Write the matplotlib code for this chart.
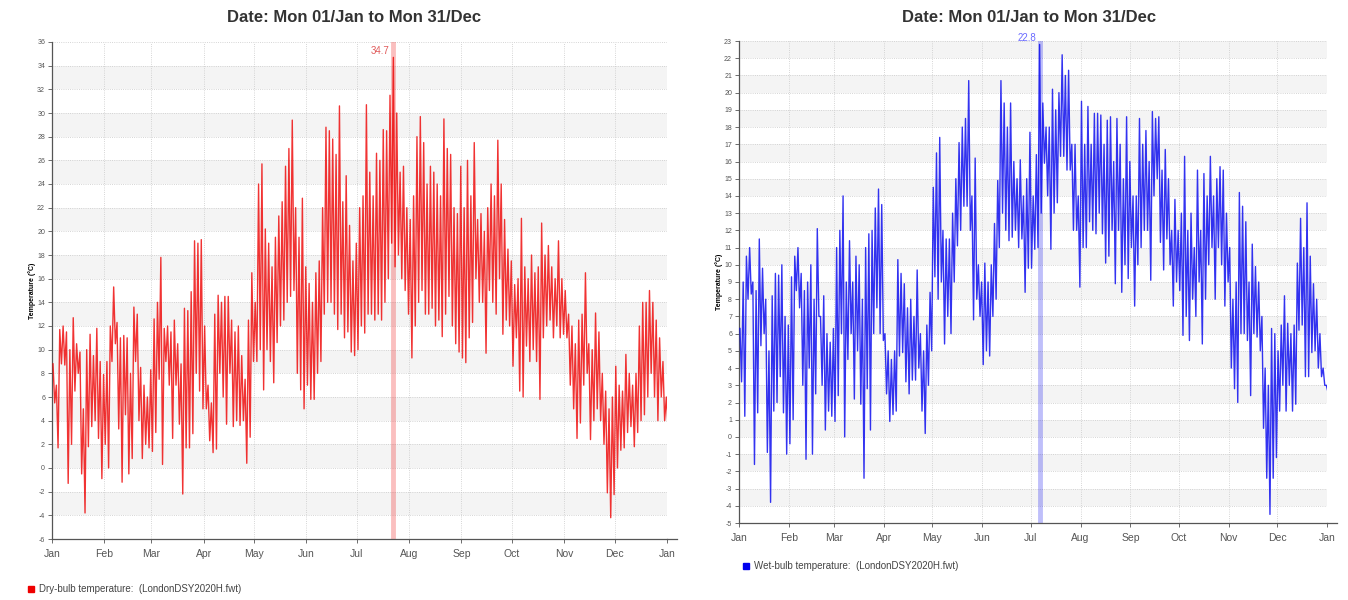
import numpy as np
import matplotlib.pyplot as plt
from matplotlib.patches import Rectangle

plt.rcParams['font.family'] = ['Liberation Sans', 'DejaVu Sans']

month_labels = ['Jan', 'Feb', 'Mar', 'Apr', 'May', 'Jun', 'Jul',
                'Aug', 'Sep', 'Oct', 'Nov', 'Dec', 'Jan']
month_starts = [0, 31, 59, 90, 120, 151, 181, 212, 243, 273, 304, 334, 365]

# two-day highs and lows (degC), Jan..Dec
dry_bulb_high = [
    8.8, 7, 11.7, 12, 11.5, 10, 12.7, 10.5, 9.8, 5, 10, 11.3, 9.5, 11.8, 9, 7.9,
    9, 12, 15.3, 12.3, 11, 11.2, 11, 8, 13.6, 13, 8.5, 7, 6, 8.3,
    12.6, 14, 17.8, 11.8, 12, 11.5, 12.5, 10.5, 8.8, 13.5, 13.3, 14.9, 19.2, 19, 19.3,
    12, 7, 5.5, 13, 14.6, 14, 14.5, 14.5, 12.5, 11.5, 12, 9.5, 7.5, 12.5, 16.5,
    14, 24, 25.7, 20.2, 19, 17, 19.5, 21.3, 22.5, 25.5, 27, 29.4, 22, 19.5, 22.8, 17,
    15.6, 14, 16.5, 17.5, 22, 28.8, 28.5, 27.8, 26.5, 30.6, 22.5, 24.7, 20.5, 17.5, 19,
    22, 23, 30.7, 25, 23, 26.6, 26, 28.6, 28.5, 31.5, 34.7, 30, 25, 25.5, 22, 21,
    23, 28, 29.7, 27.5, 24, 25.5, 25, 24, 23, 29.5, 27, 26.5, 22, 21.5, 25.5,
    22, 26, 23, 27.5, 21, 21.5, 20, 22, 24, 23, 27.7, 24, 21, 18.5, 17.5,
    15.5, 16, 21.1, 17, 16, 18, 16.5, 17, 20.7, 18, 18.8, 17, 16, 19.2, 16, 15,
    13, 12, 10.5, 12.5, 13, 16.5, 10.5, 10, 13.1, 11.5, 8, 6.5, 5, 6,
    8.6, 7, 6.5, 9.6, 8, 7, 8, 12, 14, 14, 15, 14, 12.5, 11, 9, 6,
]
dry_bulb_low = [
    5.5, 1.7, 8.8, 8.7, -1.3, 2, 6.5, 8, -0.5, -3.8, 1.8, 3.5, 4, 2.5, -0.9, 2,
    0, 9, 10.5, 3.3, -1.2, 4.5, -0.5, 0.8, 9, 4, 0.8, 2, 1.7, 1.4,
    3, 7.5, 0.3, 9, 7, 2.5, 7, 3.7, -2.2, 1.7, 1.7, 2.9, 8, 6.5, 5,
    5, 2.3, 1.3, 1.6, 8, 6, 3.7, 8, 3.5, 4, 3.6, 4, 0.4, 2.6, 9,
    9, 10, 6.6, 10, 9, 7.2, 10.6, 12, 12.5, 14, 14.5, 15, 8, 6.6, 5, 7,
    5.8, 5.8, 8, 9, 13, 14, 14, 13, 11.7, 13, 11, 11.5, 9.8, 9.5, 10,
    12, 11.4, 13, 13, 12.5, 13, 12.5, 14, 16, 19, 17, 18, 16, 15, 13, 9.3,
    12, 14, 15, 13, 13, 13.5, 12, 12.5, 11.1, 13, 14.5, 12, 10.5, 9.8, 9.3,
    8.9, 11, 12.3, 16, 14, 14, 9.7, 15, 14, 13, 16, 11.3, 12.5, 12, 8.6,
    11, 6.5, 6, 10.3, 9, 10, 9, 5.8, 11, 12, 12.5, 11, 12, 11, 11.3, 11,
    7, 5, 2.5, 3.8, 7, 8, 2.4, 4, 5, 4, 2, -2.1, -4.2, -2.25,
    0, 1.5, 1.7, 3, 3.5, 1.8, 3, 4, 4.5, 6, 8, 6, 4, 6, 4, 3.5,
]
wet_bulb_high = [
    6.3, 9, 10.5, 11, 9, 8.5, 11.5, 9.8, 8, 5, 8.2, 9.5, 9.4, 10, 7, 6.5,
    9.3, 10.5, 11, 9.5, 8.5, 9, 10, 8, 12.1, 7, 8.2, 6, 5.5, 6.3,
    11, 12, 14, 9, 11.4, 9, 10.5, 10, 8, 11, 11.8, 12, 13.3, 14.4, 13.5,
    6, 5, 4.5, 5, 10.3, 9.5, 8.9, 7.5, 8, 7, 9.7, 6, 5, 6.5, 8.4,
    14.5, 16.5, 17.4, 12, 11.5, 11.5, 13, 15, 17.1, 18, 18.5, 20.7, 14, 16.2, 10, 9,
    10.1, 9, 10, 12.4, 14.9, 20.7, 19.4, 18, 19.4, 16, 15, 16.1, 14, 15, 17.7,
    14, 16.4, 22.8, 19.4, 18, 18, 20.2, 19, 20, 22.2, 21, 21.3, 17, 17, 14, 19.5,
    17, 19.2, 17, 18.8, 18.8, 18.7, 17, 18.4, 18.6, 16, 18.5, 17, 15, 18.6, 16,
    14, 14, 18.5, 17, 17.8, 16, 18.9, 18.5, 18.6, 15.5, 16.7, 15, 12, 13.8, 12,
    13, 16.3, 12, 13, 11, 15.5, 12, 15.3, 14, 16.3, 14, 15, 15.7, 15.5, 13, 11,
    8, 9, 14.2, 13.4, 12.5, 9, 11.2, 9.9, 9, 7, 4, 3, 6.3, 6,
    5, 6.5, 8.2, 6.6, 6, 6.5, 10.1, 12.7, 11, 13.6, 10.5, 8.9, 8, 6, 4, 3,
]
wet_bulb_low = [
    3.2, 1.2, 8, 8.3, -1.6, 1.4, 5.3, 6, -0.9, -3.8, 1.5, 2, 3.5, 1.4, -1, -0.4,
    1, 8.5, 7.5, 3, -1.3, 4, -1, 2.5, 7, 3, 0.4, 1.5, 1.2, 0.9,
    2.4, 6, 0, 4.5, 6, 2.2, 5, 1.9, -2.4, 2.8, 0.4, 6, 7.5, 6, 5.6,
    2.5, 0.9, 1.3, 1.5, 4.7, 4.9, 3.2, 2.5, 3.3, 3.3, 4, 1.5, 0.2, 3, 5,
    9.3, 8, 9, 5.4, 7, 6, 9, 11.1, 12, 13.4, 13.4, 12, 6.8, 8, 7, 4.2,
    5, 4.7, 7, 8, 11, 13, 12, 11.4, 11.6, 12, 11, 11.5, 8.4, 9.8, 9.8,
    10.9, 11, 13, 15.9, 14, 10.9, 13, 13.6, 16.3, 16.3, 15.5, 15.5, 12, 12, 8.7, 11,
    11, 12.5, 12, 11.8, 13, 11.8, 10.1, 10.5, 12, 8.9, 12, 8.4, 10, 9.2, 11,
    7.6, 10, 11, 12, 12, 9.1, 14, 15, 11.3, 9.7, 11.5, 10, 7.6, 9, 8.5,
    5.9, 7, 5.6, 8, 7, 9, 5.4, 8, 10, 11, 8, 11, 10, 7.6, 9, 4,
    2.8, 2, 6, 6, 5.6, 2.4, 6, 5.8, 5, 0.5, -2.4, -4.5, -2.4, -1.2,
    1.5, 3, 1.5, 3, 1.5, 1.9, 6.2, 6.5, 3.5, 3.5, 4.9, 5, 4, 3.5, 3, 2.6,
]

source_name = 'LondonDSY2020H.fwt'
title_text = 'Date: Mon 01/Jan to Mon 31/Dec'


def to_series(highs, lows):
    # afternoon high then night-time low for every two-day step
    start = np.arange(len(highs)) * 2.0
    t = np.empty(2 * len(highs))
    v = np.empty(2 * len(highs))
    t[0::2] = start + 0.6
    t[1::2] = start + 1.6
    v[0::2] = highs
    v[1::2] = lows
    return t, v


def draw_panel(ax, highs, lows, color, label_color, y0, y1, ystep):
    t, v = to_series(highs, lows)
    ax.set_xlim(0, 365)
    ax.set_ylim(y0, y1)

    # alternating grey bands behind the data
    for b in np.arange(y0 + ystep, y1, 2 * ystep):
        ax.axhspan(b, b + ystep, color='#f4f4f4', lw=0, zorder=0)

    yticks = np.arange(y0, y1 + ystep / 2, ystep)
    ax.set_yticks(yticks)
    ax.set_yticklabels([f'{y:g}' for y in yticks], fontsize=5, color='#555555')
    ax.set_xticks(month_starts)
    ax.set_xticklabels(month_labels, fontsize=7.5, color='#555555')
    ax.grid(True, color='#c8c8c8', ls=':', lw=0.6, zorder=1)
    ax.tick_params(length=3, width=0.6, color='#555555', pad=2)
    ax.tick_params(axis='x', pad=4)
    for s in ['top', 'right']:
        ax.spines[s].set_visible(False)
    for s in ['left', 'bottom']:
        ax.spines[s].set_color('#555555')
        ax.spines[s].set_linewidth(0.9)
    ax.plot([1, 1.017], [0, 0], transform=ax.transAxes, clip_on=False,
            color='#555555', lw=0.9)

    ax.plot(t, v, color=color, lw=1.0, alpha=0.8, zorder=3)

    i = int(np.argmax(v))
    ax.axvline(t[i], color=color, lw=3.5, alpha=0.25, zorder=2)
    ax.annotate(f'{v[i]:.1f}', (t[i], v[i]), xytext=(-2.5, 4.5),
                textcoords='offset points', ha='right', va='center',
                fontsize=7, color=label_color, annotation_clip=False)

    ax.set_ylabel('Temperature (°C)', fontsize=5, fontweight='bold', labelpad=1)


fig = plt.figure(figsize=(13.48, 6), dpi=100)
W, H = 1348, 600

ax1 = fig.add_axes([52 / W, 1 - 539 / H, 615 / W, 497 / H])
draw_panel(ax1, dry_bulb_high, dry_bulb_low, '#ee0000', '#e05a5a', -6, 36, 2)

ax2 = fig.add_axes([739 / W, 1 - 523 / H, 588 / W, 482 / H])
draw_panel(ax2, wet_bulb_high, wet_bulb_low, '#0000ee', '#6a6aff', -5, 23, 1)

for cx in [354, 1029]:
    fig.text(cx / W, 1 - 17 / H, title_text, ha='center', va='center',
             fontsize=12, fontweight='bold', color='#333333')

# legends
legend_items = [
    (31, 589, '#ee0000', 'Dry-bulb temperature:  (' + source_name + ')'),
    (746, 566, '#0000ee', 'Wet-bulb temperature:  (' + source_name + ')'),
]
for px, py, c, txt in legend_items:
    fig.add_artist(Rectangle(((px - 3) / W, 1 - (py + 3) / H), 6 / W, 6 / H,
                             transform=fig.transFigure, color=c))
    fig.text((px + 8) / W, 1 - py / H, txt, ha='left', va='center',
             fontsize=7, color='#444444')

fig.savefig('out.png', dpi=100, facecolor='white')
